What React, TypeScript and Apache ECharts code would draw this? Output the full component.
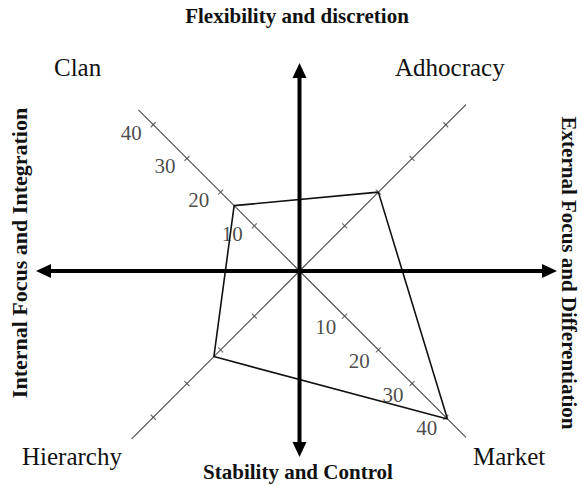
import React, { useEffect, useRef } from 'react';
import * as echarts from 'echarts';

// Competing values framework profile
const indicators = ['Adhocracy', 'Clan', 'Hierarchy', 'Market'];
const indicatorAngles = [45, 135, 225, 315];
const axisEnds = [46, 44.4, 46.4, 46];
const scores = [20, 16, 22, 40.5];
const tickValues = [10, 20, 30, 40];
const labelledAxes = ['Clan', 'Market'];
const axisMin = -3.4;
const axisMax = 46.5;

const SERIF = '"Liberation Serif", "Times New Roman", serif';

export default function App() {
  const ref = useRef<HTMLDivElement>(null);
  useEffect(() => {
    document.body.style.margin = '0';
    const chart = echarts.init(ref.current!, null, { renderer: 'svg' });
    const cx = 299.5;
    const cy = 271;
    const pxPerUnit = 4.766;
    const radius = pxPerUnit * (axisMax - axisMin);

    const axisSeries = indicators.map((name, i) => ({
      type: 'line',
      name: name + ' axis',
      coordinateSystem: 'polar',
      symbol: 'none',
      silent: true,
      lineStyle: { color: '#4a4a4a', width: 1.1 },
      data: [
        [axisMin, indicatorAngles[i]],
        [axisEnds[i], indicatorAngles[i]],
      ],
      z: 2,
    }));

    const tickData: any[] = [];
    indicators.forEach((name, i) => {
      tickValues.forEach((v) => {
        tickData.push({ value: [v, indicatorAngles[i]], symbolRotate: indicatorAngles[i] });
      });
    });

    const labelOffsets: Record<string, number[]> = { Clan: [-22, 8], Market: [-19, 11] };
    const labelData: any[] = [];
    labelledAxes.forEach((name) => {
      const i = indicators.indexOf(name);
      tickValues.forEach((v) => {
        labelData.push({
          value: [v, indicatorAngles[i]],
          label: { offset: labelOffsets[name] },
        });
      });
    });

    const polygon = indicators.map((_, i) => [scores[i], indicatorAngles[i]]);
    polygon.push([scores[0], indicatorAngles[0]]);

    const arrowColor = '#000';
    const headL = 15;
    const headW = 7;
    const left = 36, right = 557, top = 63, bottom = 457;

    const textStyle = (size: number, bold: boolean) => ({
      fontFamily: SERIF,
      fontSize: size,
      fontWeight: bold ? 'bold' : 'normal',
      fill: '#111',
    });

    chart.setOption({
      animation: false,
      backgroundColor: '#fff',
      polar: { center: [cx, cy], radius: radius },
      angleAxis: {
        type: 'value',
        min: 0,
        max: 360,
        startAngle: 0,
        clockwise: false,
        show: false,
      },
      radiusAxis: { type: 'value', min: axisMin, max: axisMax, show: false },
      series: [
        ...axisSeries,
        {
          type: 'scatter',
          name: 'ticks',
          coordinateSystem: 'polar',
          symbol: 'rect',
          symbolSize: [1.2, 7],
          itemStyle: { color: '#4a4a4a' },
          data: tickData,
          silent: true,
          z: 3,
        },
        {
          type: 'scatter',
          name: 'tick labels',
          coordinateSystem: 'polar',
          symbol: 'circle',
          symbolSize: 0,
          silent: true,
          label: {
            show: true,
            position: 'inside',
            formatter: (p: any) => String(p.value[0]),
            fontFamily: SERIF,
            fontSize: 21,
            color: '#1a1a1a',
          },
          data: labelData,
          z: 4,
        },
        {
          type: 'line',
          name: 'Profile',
          coordinateSystem: 'polar',
          symbol: 'none',
          lineStyle: { color: '#111', width: 1.6 },
          data: polygon,
          z: 5,
        },
      ],
      graphic: [
        // horizontal arrow
        { type: 'line', shape: { x1: left + headL - 2, y1: cy, x2: right - headL + 2, y2: cy }, style: { stroke: arrowColor, lineWidth: 4 }, z: 10 },
        { type: 'polygon', shape: { points: [[left, cy], [left + headL, cy - headW], [left + headL, cy + headW]] }, style: { fill: arrowColor }, z: 10 },
        { type: 'polygon', shape: { points: [[right, cy], [right - headL, cy - headW], [right - headL, cy + headW]] }, style: { fill: arrowColor }, z: 10 },
        // vertical arrow
        { type: 'line', shape: { x1: cx, y1: top + headL - 2, x2: cx, y2: bottom - headL + 2 }, style: { stroke: arrowColor, lineWidth: 4 }, z: 10 },
        { type: 'polygon', shape: { points: [[cx, top], [cx - headW, top + headL], [cx + headW, top + headL]] }, style: { fill: arrowColor }, z: 10 },
        { type: 'polygon', shape: { points: [[cx, bottom], [cx - headW, bottom - headL], [cx + headW, bottom - headL]] }, style: { fill: arrowColor }, z: 10 },
        // titles
        { type: 'text', x: 297, y: 16, style: { ...textStyle(21, true), text: 'Flexibility and discretion', align: 'center', verticalAlign: 'middle' } },
        { type: 'text', x: 298, y: 472, style: { ...textStyle(21, true), text: 'Stability and Control', align: 'center', verticalAlign: 'middle' } },
        { type: 'text', x: 19, y: 253, rotation: Math.PI / 2, style: { ...textStyle(22, true), text: 'Internal Focus and Integration', align: 'center', verticalAlign: 'middle' } },
        { type: 'text', x: 569, y: 273, rotation: -Math.PI / 2, style: { ...textStyle(21, true), text: 'External Focus and Differentiation', align: 'center', verticalAlign: 'middle' } },
        // quadrant labels
        { type: 'text', x: 54, y: 67, style: { ...textStyle(25, false), text: 'Clan', align: 'left', verticalAlign: 'middle' } },
        { type: 'text', x: 395, y: 67, style: { ...textStyle(25, false), text: 'Adhocracy', align: 'left', verticalAlign: 'middle' } },
        { type: 'text', x: 22, y: 456, style: { ...textStyle(25, false), text: 'Hierarchy', align: 'left', verticalAlign: 'middle' } },
        { type: 'text', x: 473, y: 456, style: { ...textStyle(25, false), text: 'Market', align: 'left', verticalAlign: 'middle' } },
      ],
    });
    return () => chart.dispose();
  }, []);
  return <div ref={ref} style={{ width: 582, height: 486 }} />;
}
